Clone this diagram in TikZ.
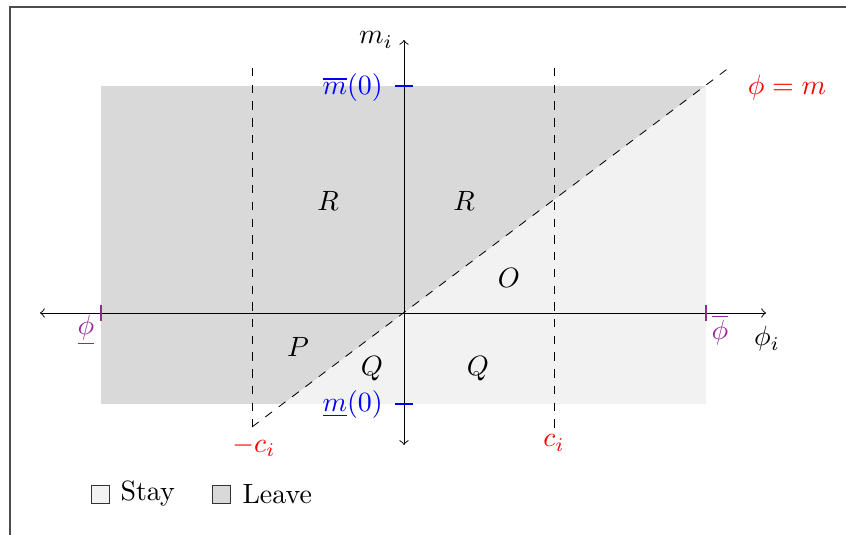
\documentclass[tikz,border=0pt]{standalone}
\usepackage{amsmath}
\definecolor{myviolet}{RGB}{145,40,150}
\tikzset{
  axis/.style={->, line width=0.35pt},
  guide/.style={dashed, line width=0.3pt},
  tickb/.style={blue, line width=0.45pt},
  tickp/.style={myviolet, line width=0.45pt},
  region/.style={inner sep=1pt},
  legbox/.style={draw=black!80, line width=0.4pt, minimum size=6.6pt, inner sep=0pt},
}
\begin{document}
\begin{tikzpicture}[x=0.0126cm, y=-0.0126cm]
\useasboundingbox (0,0) rectangle (846,535);
\clip (0,0) rectangle (846,535);
% frame
\draw[black!70, line width=0.6pt] (10,900) -- (10,7) -- (1200,7);
% regions
\fill[gray!30] (101,86) rectangle (706,404);
\fill[gray!10] (283,404) -- (706,404) -- (706,85.6) -- cycle;
% coordinates
\coordinate (O) at (404,313);
\coordinate (xl) at (40,313);
\coordinate (xr) at (766,313);
\coordinate (yb) at (404,445);
\coordinate (yt) at (404,40);
\coordinate (lt) at (252,68);
\coordinate (lb) at (252,427);
\coordinate (rt) at (554,68);
\coordinate (rb) at (554,432);
\coordinate (de) at (730,67);
% dashed guides
\draw[guide] (lt) -- (lb);
\draw[guide] (rt) -- (rb);
\draw[guide] (lb) -- (de);
% axes
\draw[axis] (O) -- (xr);
\draw[axis] (O) -- (xl);
\draw[axis] (O) -- (yt);
\draw[axis] (O) -- (yb);
% ticks
\coordinate (t1a) at (395,86); \coordinate (t1b) at (413,86);
\coordinate (t2a) at (395,404); \coordinate (t2b) at (413,404);
\coordinate (t3a) at (101,305); \coordinate (t3b) at (101,321);
\coordinate (t4a) at (706,305); \coordinate (t4b) at (706,321);
\draw[tickb] (t1a) -- (t1b);
\draw[tickb] (t2a) -- (t2b);
\draw[tickp] (t3a) -- (t3b);
\draw[tickp] (t4a) -- (t4b);
% labels
\node (mi) at (376,40) {$m_i$};
\node (phii) at (767,339) {$\phi_i$};
\node[blue, anchor=east, inner sep=1pt] (mbar) at (386,88) {$\overline{m}(0)$};
\node[blue, anchor=east, inner sep=1pt] (munder) at (386,405) {$\underline{m}(0)$};
\node[myviolet] (phiu) at (86,330) {$\underline{\phi}$};
\node[myviolet] (phio) at (720,330) {$\overline{\phi}$};
\node[red] (phim) at (787,88) {$\phi = m$};
\node[red] (mc) at (254,446) {$-c_i$};
\node[red] (pc) at (554,443) {$c_i$};
\node[region] (R1) at (328,201) {$R$};
\node[region] (R2) at (464,201) {$R$};
\node[region] (Oreg) at (509,278) {$O$};
\node[region] (P) at (298,347) {$P$};
\node[region] (Q1) at (372,369) {$Q$};
\node[region] (Q2) at (478,369) {$Q$};
% legend
\node[legbox, fill=gray!10] (b1) at (100.5,494.5) {};
\node[anchor=west, inner sep=0pt] (l1) at (120,494) {Stay};
\node[legbox, fill=gray!30] (b2) at (221.5,494.5) {};
\node[anchor=west, inner sep=0pt] (l2) at (242,494) {Leave};
\end{tikzpicture}
\end{document}
